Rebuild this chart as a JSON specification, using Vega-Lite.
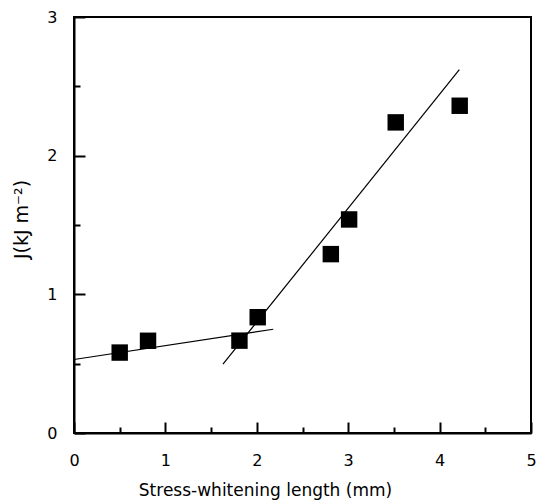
{
  "$schema": "https://vega.github.io/schema/vega-lite/v6.json",
  "width": 457,
  "height": 416,
  "autosize": {"type": "none"},
  "padding": {"left": 74, "top": 17, "right": 5, "bottom": 68},
  "background": "white",
  "config": {
    "font": "DejaVu Sans",
    "view": {"stroke": "black", "strokeWidth": 2},
    "axis": {
      "grid": false,
      "domainColor": "black",
      "domainWidth": 2,
      "tickColor": "black",
      "tickWidth": 2,
      "labelColor": "black",
      "titleColor": "black",
      "labelFont": "DejaVu Sans",
      "titleFont": "DejaVu Sans",
      "labelFontSize": 16,
      "titleFontSize": 17,
      "titleFontWeight": "normal"
    }
  },
  "datasets": {
    "pts": [
      {"x": 0.5, "y": 0.58},
      {"x": 0.81, "y": 0.665},
      {"x": 1.81, "y": 0.666},
      {"x": 2.01, "y": 0.835},
      {"x": 2.81, "y": 1.29},
      {"x": 3.01, "y": 1.54},
      {"x": 3.52, "y": 2.24},
      {"x": 4.22, "y": 2.36}
    ],
    "fit": [
      {"seg": "a", "x": 0.0, "y": 0.53},
      {"seg": "a", "x": 2.18, "y": 0.748},
      {"seg": "b", "x": 1.63, "y": 0.496},
      {"seg": "b", "x": 4.216, "y": 2.62}
    ]
  },
  "layer": [
    {
      "data": {"name": "fit"},
      "mark": {"type": "line", "color": "black", "strokeWidth": 1.2},
      "encoding": {
        "x": {"field": "x", "type": "quantitative"},
        "y": {"field": "y", "type": "quantitative"},
        "detail": {"field": "seg"}
      }
    },
    {
      "data": {"name": "pts"},
      "mark": {"type": "point", "shape": "square", "filled": true, "color": "black", "size": 270, "opacity": 1},
      "encoding": {
        "x": {
          "field": "x", "type": "quantitative",
          "scale": {"domain": [0, 5], "nice": false},
          "axis": {
            "title": "Stress-whitening length (mm)",
            "values": [0, 0.5, 1, 1.5, 2, 2.5, 3, 3.5, 4, 4.5, 5],
            "labelExpr": "datum.value % 1 === 0 ? format(datum.value, 'd') : ''",
            "tickSize": {"condition": {"test": "datum.value % 1 === 0", "value": -11}, "value": -6},
            "labelPadding": 30,
            "titleX": 191,
            "titleY": 62,
            "titleBaseline": "alphabetic",
            "labelFlush": false
          }
        },
        "y": {
          "field": "y", "type": "quantitative",
          "scale": {"domain": [0, 3], "nice": false},
          "axis": {
            "title": "J(kJ m⁻²)",
            "titleFontSize": 19,
            "values": [0, 0.5, 1, 1.5, 2, 2.5, 3],
            "labelExpr": "datum.value % 1 === 0 ? format(datum.value, 'd') : ''",
            "tickSize": {"condition": {"test": "datum.value % 1 === 0", "value": -11}, "value": -6},
            "labelPadding": 28,
            "titleX": -53,
            "titleY": 202,
            "titleBaseline": "middle",
            "labelFlush": false
          }
        }
      }
    }
  ]
}
